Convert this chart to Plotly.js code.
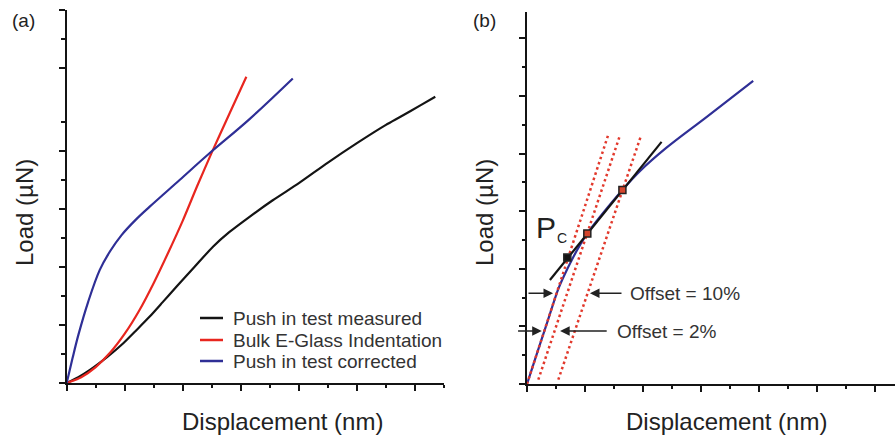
<!DOCTYPE html>
<html>
<head>
<meta charset="utf-8">
<script src="https://cdn.plot.ly/plotly-3.0.1.min.js"></script>
<style>html,body{margin:0;padding:0;background:#fff;}#chart{width:895px;height:437px;}</style>
</head>
<body>
<div id="chart"></div>
<script>
// ---- Panel (a) data ----
const measuredX = [0, 0.4, 0.8, 1.4, 1.95, 2.4, 2.86, 3.3, 3.78, 4.4, 5.04, 5.6, 6.3, 7.1, 8.0, 9.0, 10.0, 11.0, 11.5, 12.2, 12.7];
const measuredY = [0, 0.2, 0.45, 0.9, 1.37, 1.82, 2.29, 2.78, 3.32, 4.0, 4.7, 5.2, 5.73, 6.3, 6.89, 7.6, 8.27, 8.9, 9.18, 9.58, 9.87];
const bulkX = [0, 0.5, 1.0, 1.5, 2.0, 2.5, 3.0, 3.5, 4.0, 4.5, 5.0, 5.5, 6.19];
const bulkY = [0, 0.2, 0.55, 1.05, 1.7, 2.5, 3.45, 4.5, 5.6, 6.8, 7.95, 9.05, 10.56];
const correctedX = [0, 0.2, 0.4, 0.74, 1.14, 1.5, 1.89, 2.4, 2.86, 3.89, 4.92, 6.3, 7.79];
const correctedY = [0, 0.85, 1.65, 2.8, 3.9, 4.55, 5.1, 5.65, 6.08, 7.0, 7.92, 9.1, 10.5];
const legendNames = ["Push in test measured", "Bulk E-Glass Indentation", "Push in test corrected"];

// ---- Panel (b) data ----
const curveBX = [0, 0.35, 0.7, 1.08, 1.25, 1.54, 1.83, 2.08, 2.52, 3.29, 3.9, 4.8, 6.2, 7.8];
const curveBY = [0, 1.08, 2.15, 3.3, 3.7, 4.3, 4.83, 5.23, 5.81, 6.74, 7.4, 8.2, 9.28, 10.53];
const offset0X = [0, 2.8];   const offset0Y = [0, 8.65];
const offset2X = [0.39, 3.21]; const offset2Y = [0.15, 8.65];
const offset10X = [1.08, 3.94]; const offset10Y = [0.15, 8.65];
const chordX = [0.79, 4.64]; const chordY = [3.61, 8.41];
const pointX = [1.39, 2.08, 3.29]; const pointY = [4.39, 5.23, 6.74];
const arrow10Y = 3.15, arrow2Y = 1.84;

// tick positions
const aYMajor = [0, 2, 4, 6, 8, 10.86, 12.86];
const aYMinor = [1, 3, 5, 7, 9, 11.86];

const W = 895, H = 437;
const px = v => v / W, py = v => 1 - v / H;
const FONT = "Liberation Sans, Arial, sans-serif";
const BLACK = "#141414", RED = "#e8261f", BLUE = "#2f2f96", DOT = "#e2392c";
const colors = [BLACK, RED, BLUE];

const traces = [
  {x: measuredX, y: measuredY, name: legendNames[0], mode: "lines", line: {color: BLACK, width: 2.2, shape: "spline", smoothing: 0.6}, xaxis: "x", yaxis: "y"},
  {x: bulkX, y: bulkY, name: legendNames[1], mode: "lines", line: {color: RED, width: 2.2, shape: "spline", smoothing: 0.6}, xaxis: "x", yaxis: "y"},
  {x: correctedX, y: correctedY, name: legendNames[2], mode: "lines", line: {color: BLUE, width: 2.2, shape: "spline"}, xaxis: "x", yaxis: "y"},
  {x: curveBX, y: curveBY, mode: "lines", line: {color: BLUE, width: 2.2, shape: "spline"}, xaxis: "x2", yaxis: "y2"},
  {x: offset0X, y: offset0Y, mode: "lines", line: {color: DOT, width: 2.5, dash: "2.5px,3px"}, xaxis: "x2", yaxis: "y2"},
  {x: offset2X, y: offset2Y, mode: "lines", line: {color: DOT, width: 2.5, dash: "2.5px,3px"}, xaxis: "x2", yaxis: "y2"},
  {x: offset10X, y: offset10Y, mode: "lines", line: {color: DOT, width: 2.5, dash: "2.5px,3px"}, xaxis: "x2", yaxis: "y2"},
  {x: chordX, y: chordY, mode: "lines", line: {color: BLACK, width: 2.2}, xaxis: "x2", yaxis: "y2"},
  {x: pointX, y: pointY, mode: "markers",
   marker: {symbol: "square", size: 7, color: [BLACK, "#d4452d", "#d4452d"], line: {color: "#222", width: 1.5}}, xaxis: "x2", yaxis: "y2"}
];

const axisBase = {showline: true, linecolor: BLACK, linewidth: 2, showgrid: false, zeroline: false,
  showticklabels: false, ticks: "outside", tickcolor: BLACK, tickwidth: 2, ticklen: 6};

const ann = (text, x, y, size, extra) => Object.assign({text, xref: "paper", yref: "paper", x: px(x), y: py(y),
  xanchor: "center", yanchor: "middle", showarrow: false, font: {size, color: "#222"}}, extra || {});

const annotations = [
  ann("(a)", 23, 21, 19),
  ann("(b)", 484, 21, 19),
  ann("Load (µN)", 24, 213, 24, {textangle: -90}),
  ann("Load (µN)", 484, 213, 24, {textangle: -90}),
  ann("Displacement (nm)", 282, 421, 24),
  ann("Displacement (nm)", 726, 421, 24),
  ann("P", 546, 227, 30),
  ann("C", 562, 238, 14),
  {text: "Offset = 10%", xref: "x2", yref: "y2", x: 3.48, y: arrow10Y, xanchor: "left", yanchor: "middle", showarrow: false, font: {size: 19, color: "#333"}},
  {text: "Offset = 2%", xref: "x2", yref: "y2", x: 3.03, y: arrow2Y, xanchor: "left", yanchor: "middle", showarrow: false, font: {size: 19, color: "#333"}},
  {text: "", xref: "x2", yref: "y2", x: 0.9, y: arrow10Y, axref: "x2", ayref: "y2", ax: 0, ay: arrow10Y,
    showarrow: true, arrowhead: 2, arrowsize: 1.2, arrowwidth: 1.6, arrowcolor: "#222"},
  {text: "", xref: "x2", yref: "y2", x: 2.17, y: arrow10Y, axref: "x2", ayref: "y2", ax: 3.31, ay: arrow10Y,
    showarrow: true, arrowhead: 2, arrowsize: 1.2, arrowwidth: 1.6, arrowcolor: "#222"},
  {text: "", xref: "x2", yref: "y2", x: 0.51, y: arrow2Y, axref: "x2", ayref: "y2", ax: -0.36, ay: arrow2Y,
    showarrow: true, arrowhead: 2, arrowsize: 1.2, arrowwidth: 1.6, arrowcolor: "#222"},
  {text: "", xref: "x2", yref: "y2", x: 1.14, y: arrow2Y, axref: "x2", ayref: "y2", ax: 2.8, ay: arrow2Y,
    showarrow: true, arrowhead: 2, arrowsize: 1.2, arrowwidth: 1.6, arrowcolor: "#222"}
];

// legend (drawn as paper-positioned samples + labels)
const legendRows = [318, 340, 361];
const shapes = [];
legendNames.forEach((name, i) => {
  annotations.push({text: name, xref: "paper", yref: "paper", x: px(231), y: py(legendRows[i]),
    xanchor: "left", yanchor: "middle", showarrow: false, font: {size: 19, color: "#333"}});
  shapes.push({type: "line", xref: "paper", yref: "paper", x0: px(200), x1: px(223),
    y0: py(legendRows[i]), y1: py(legendRows[i]), line: {color: colors[i], width: 2.5}});
});

const layout = {
  width: W, height: H, margin: {l: 0, r: 0, t: 0, b: 0},
  paper_bgcolor: "#fff", plot_bgcolor: "rgba(0,0,0,0)",
  font: {family: FONT, color: "#333"},
  showlegend: false,
  xaxis: Object.assign({}, axisBase, {domain: [px(66.7), px(444)], range: [0, 13], dtick: 2, tick0: 0,
    minor: {dtick: 1, tick0: 0, ticks: "outside", ticklen: 3, tickwidth: 2, tickcolor: BLACK}}),
  yaxis: Object.assign({}, axisBase, {domain: [py(383), py(10)], range: [0, 12.86], tickmode: "array", tickvals: aYMajor,
    minor: {tickmode: "array", tickvals: aYMinor, ticks: "outside", ticklen: 3.5, tickwidth: 2, tickcolor: BLACK}}),
  xaxis2: Object.assign({}, axisBase, {anchor: "y2", domain: [px(527), 1], range: [0, 12.69], dtick: 2, tick0: 0,
    minor: {dtick: 1, tick0: 0, ticks: "outside", ticklen: 3, tickwidth: 2, tickcolor: BLACK}}),
  yaxis2: Object.assign({}, axisBase, {anchor: "x2", domain: [py(384), py(12)], range: [0, 12.92], dtick: 2, tick0: 0,
    minor: {dtick: 1, tick0: 0, ticks: "outside", ticklen: 3.5, tickwidth: 2, tickcolor: BLACK}}),
  annotations, shapes
};

Plotly.newPlot("chart", traces, layout, {staticPlot: true, displayModeBar: false});
</script>
</body>
</html>
